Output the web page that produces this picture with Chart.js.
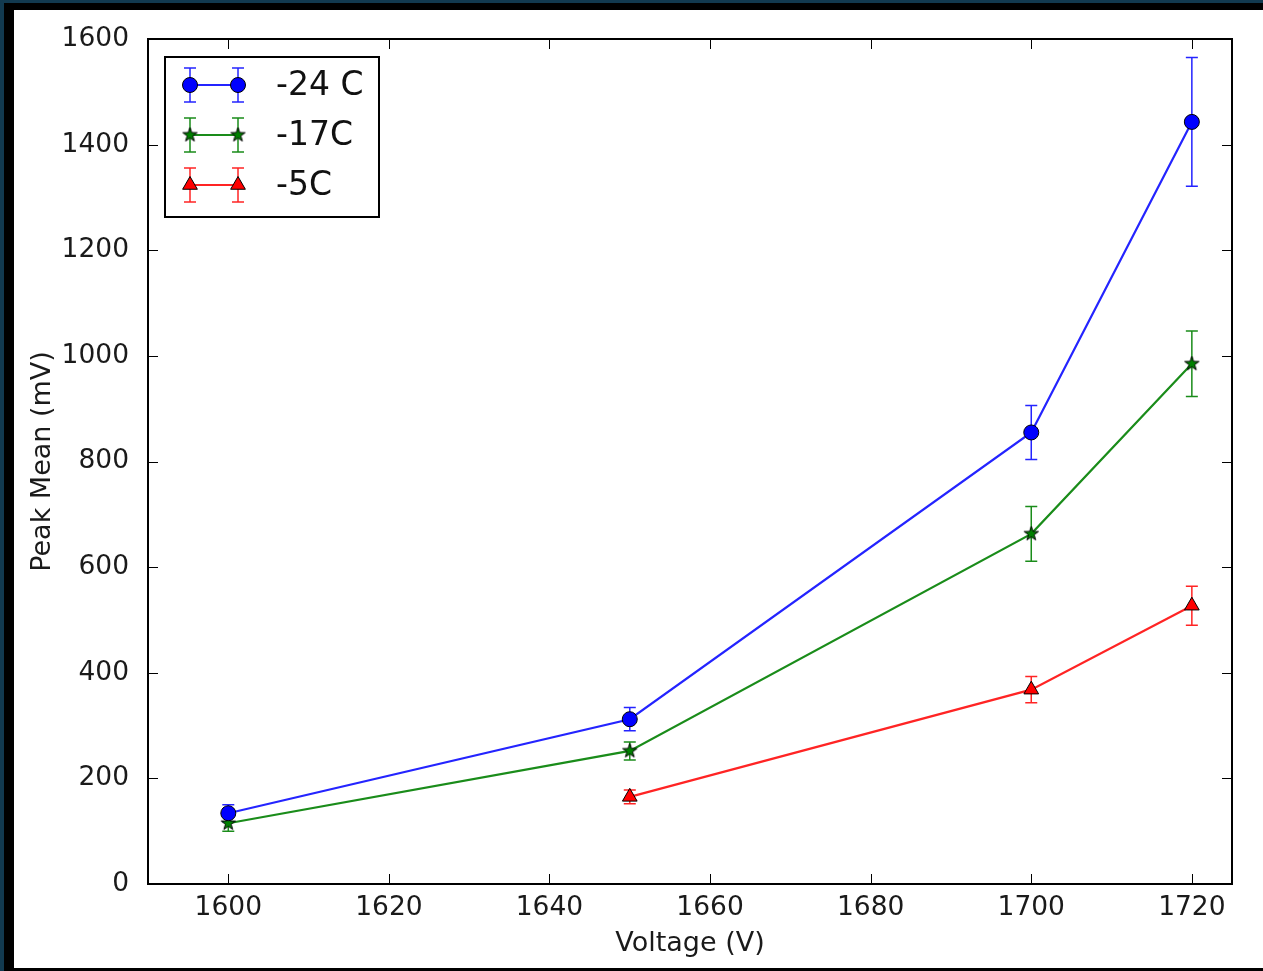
<!DOCTYPE html>
<html>
<head>
<meta charset="utf-8">
<script src="https://cdn.jsdelivr.net/npm/chart.js@4.4.1/dist/chart.umd.min.js"></script>
<style>
  html, body { margin: 0; padding: 0; }
  body { background: #123a50; width: 1263px; height: 971px; overflow: hidden; position: relative; }
  #frame { position: absolute; left: 4px; top: 3px; width: 1259px; height: 968px; background: #000; }
  #chartWrap { position: absolute; left: 10px; top: 7px; width: 1249px; height: 958px; background: #fff; }
</style>
</head>
<body>
<div id="frame"><div id="chartWrap"><canvas id="peakChart" width="1249" height="958"></canvas></div></div>
<script>
// Data
const voltages = [1600, 1650, 1700, 1720];
const voltagesWarm = [1650, 1700, 1720];

const meanMinus24 = [134, 312, 855, 1443];
const errMinus24 = [16, 22, 51, 122];

const meanMinus17 = [115, 252, 663, 985];
const errMinus17 = [15, 17, 52, 62];

const meanMinus5 = [165, 368, 527];
const errMinus5 = [13, 25, 37];

const xTicks = [1600, 1620, 1640, 1660, 1680, 1700, 1720];
const yTicks = [0, 200, 400, 600, 800, 1000, 1200, 1400, 1600];

const FONT = "'DejaVu Sans', 'Liberation Sans', sans-serif";

// filled five point star, like the matplotlib '*' marker
function makeStar(r, fill) {
  const c = document.createElement('canvas');
  const s = Math.ceil(r * 2 + 4);
  c.width = s; c.height = s;
  const g = c.getContext('2d');
  g.translate(s / 2, s / 2);
  g.beginPath();
  for (let i = 0; i < 10; i++) {
    const rad = i % 2 === 0 ? r : r * 0.4;
    const a = -Math.PI / 2 + i * Math.PI / 5;
    g.lineTo(rad * Math.cos(a), rad * Math.sin(a));
  }
  g.closePath();
  g.fillStyle = fill;
  g.fill();
  g.lineWidth = 1;
  g.strokeStyle = '#000';
  g.stroke();
  return c;
}
const starMarker = makeStar(7.5, '#008000');

function toPoints(xs, ys) {
  return xs.map((x, i) => ({ x: x, y: ys[i] }));
}

const series = [
  { label: '-24 C', xs: voltages, ys: meanMinus24, err: errMinus24, color: '#0000ff', line: '#2424ff', style: 'circle', radius: 7.5 },
  { label: '-17C', xs: voltages, ys: meanMinus17, err: errMinus17, color: '#008000', line: '#1a8c1a', style: starMarker, radius: 7.5 },
  { label: '-5C', xs: voltagesWarm, ys: meanMinus5, err: errMinus5, color: '#ff0000', line: '#ff2424', style: 'triangle', radius: 8.5 }
];

// vertical error bars with caps, drawn before lines and markers
const errorBars = {
  id: 'errorBars',
  beforeDatasetsDraw(chart) {
    const ctx = chart.ctx;
    const xs = chart.scales.x, ys = chart.scales.y;
    ctx.save();
    series.forEach(s => {
      ctx.strokeStyle = s.line;
      ctx.lineWidth = 1.5;
      s.xs.forEach((v, i) => {
        const px = xs.getPixelForValue(v);
        const top = ys.getPixelForValue(s.ys[i] + s.err[i]);
        const bot = ys.getPixelForValue(s.ys[i] - s.err[i]);
        ctx.beginPath();
        ctx.moveTo(px, top); ctx.lineTo(px, bot);
        ctx.moveTo(px - 6, top); ctx.lineTo(px + 6, top);
        ctx.moveTo(px - 6, bot); ctx.lineTo(px + 6, bot);
        ctx.stroke();
      });
    });
    ctx.restore();
  }
};

// matplotlib-style frame with ticks pointing inward on all four sides
const frameTicks = {
  id: 'frameTicks',
  afterDraw(chart) {
    const ctx = chart.ctx;
    const a = chart.chartArea;
    const xs = chart.scales.x, ys = chart.scales.y;
    ctx.save();
    ctx.strokeStyle = '#000';
    ctx.lineWidth = 1;
    ctx.beginPath();
    xTicks.forEach(v => {
      const px = Math.round(xs.getPixelForValue(v)) + 0.5;
      ctx.moveTo(px, a.bottom); ctx.lineTo(px, a.bottom - 10);
      ctx.moveTo(px, a.top); ctx.lineTo(px, a.top + 10);
    });
    yTicks.forEach(v => {
      const py = Math.round(ys.getPixelForValue(v)) + 0.5;
      ctx.moveTo(a.left, py); ctx.lineTo(a.left + 10, py);
      ctx.moveTo(a.right, py); ctx.lineTo(a.right - 10, py);
    });
    ctx.stroke();
    ctx.lineWidth = 2;
    ctx.strokeRect(a.left, a.top, a.right - a.left, a.bottom - a.top);
    ctx.restore();
  }
};

// legend box: line with a marker and error bar at each end
const errLegend = {
  id: 'errLegend',
  afterDraw(chart) {
    const ctx = chart.ctx;
    const bx = 151, by = 47, bw = 214, bh = 160;
    ctx.save();
    ctx.fillStyle = '#fff';
    ctx.fillRect(bx, by, bw, bh);
    ctx.strokeStyle = '#000';
    ctx.lineWidth = 2;
    ctx.strokeRect(bx, by, bw, bh);
    series.forEach((s, i) => {
      const y = 75 + i * 50;
      const x1 = 176, x2 = 224;
      ctx.strokeStyle = s.line;
      ctx.lineWidth = 1.5;
      [x1, x2].forEach(x => {
        ctx.beginPath();
        ctx.moveTo(x, y - 17); ctx.lineTo(x, y + 17);
        ctx.moveTo(x - 6, y - 17); ctx.lineTo(x + 6, y - 17);
        ctx.moveTo(x - 6, y + 17); ctx.lineTo(x + 6, y + 17);
        ctx.stroke();
      });
      ctx.lineWidth = 2.2;
      ctx.beginPath();
      ctx.moveTo(x1, y); ctx.lineTo(x2, y);
      ctx.stroke();
      [x1, x2].forEach(x => {
        ctx.fillStyle = s.color;
        ctx.strokeStyle = '#000';
        ctx.lineWidth = 1;
        Chart.helpers.drawPoint(ctx, { pointStyle: s.style, radius: s.radius, borderWidth: 1, rotation: 0 }, x, y);
      });
      ctx.fillStyle = '#111';
      ctx.font = '33px ' + FONT;
      ctx.textBaseline = 'middle';
      ctx.textAlign = 'left';
      ctx.fillText(s.label, 262, y + 1);
    });
    ctx.restore();
  }
};

function initializePeakChart() {
  const ctx = document.getElementById('peakChart');
  if (!ctx) return;

  new Chart(ctx, {
    type: 'line',
    data: {
      datasets: series.map(s => ({
        label: s.label,
        data: toPoints(s.xs, s.ys),
        borderColor: s.line,
        borderWidth: 2.2,
        backgroundColor: s.color,
        pointBackgroundColor: s.color,
        pointBorderColor: '#000',
        pointBorderWidth: 1,
        pointStyle: s.style,
        pointRadius: s.radius,
        tension: 0,
        fill: false,
        clip: false
      }))
    },
    options: {
      responsive: false,
      animation: false,
      events: [],
      layout: { padding: { top: 29, right: 31, left: 0, bottom: 0 } },
      scales: {
        x: {
          type: 'linear',
          min: 1590,
          max: 1725,
          afterBuildTicks: scale => { scale.ticks = xTicks.map(v => ({ value: v })); },
          afterFit: scale => { scale.height = 84; },
          border: { display: false },
          grid: { display: false },
          ticks: { color: '#1a1a1a', font: { family: FONT, size: 26.5 }, padding: 0, maxRotation: 0, callback: v => String(v) },
          title: { display: true, text: 'Voltage (V)', color: '#1a1a1a', font: { family: FONT, size: 27 }, padding: { top: 0, bottom: 8 } }
        },
        y: {
          min: 0,
          max: 1600,
          afterBuildTicks: scale => { scale.ticks = yTicks.map(v => ({ value: v })); },
          afterFit: scale => { scale.width = 134; },
          border: { display: false },
          grid: { display: false },
          ticks: { color: '#1a1a1a', font: { family: FONT, size: 26.5 }, padding: 11, callback: v => String(v) },
          title: { display: true, text: 'Peak Mean (mV)', color: '#1a1a1a', font: { family: FONT, size: 27 }, padding: { top: 13, bottom: 0 } }
        }
      },
      plugins: {
        legend: { display: false },
        tooltip: { enabled: false }
      }
    },
    plugins: [errorBars, frameTicks, errLegend]
  });
}

initializePeakChart();
</script>
</body>
</html>
